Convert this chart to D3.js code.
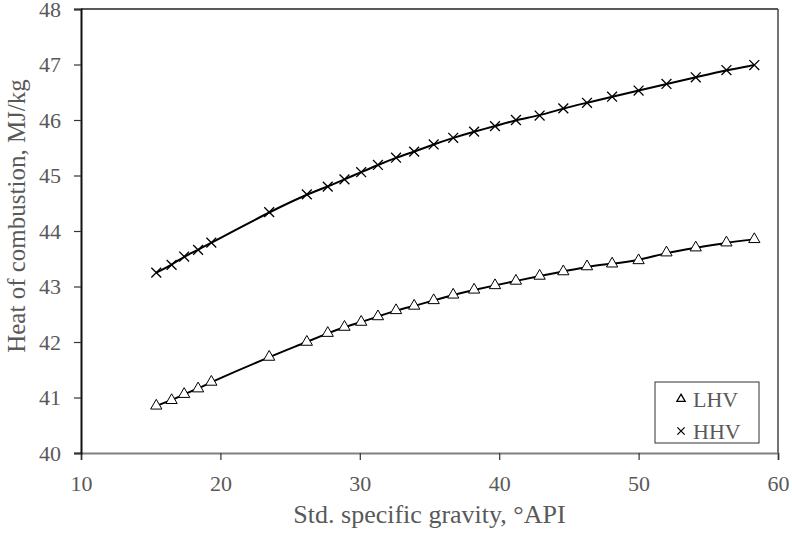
<!DOCTYPE html>
<html>
<head>
<meta charset="utf-8">
<script src="https://cdn.jsdelivr.net/npm/d3@7"></script>
<style>
  body { margin: 0; background: #fff; }
  text { font-family: "Liberation Serif", "Times New Roman", serif; fill: #595959; }
</style>
</head>
<body>
<svg id="chart" width="792" height="536"></svg>
<script>
const api = [15.4, 16.5, 17.4, 18.4, 19.35, 23.5, 26.2, 27.7, 28.9, 30.1, 31.3, 32.6, 33.9, 35.3,
             36.7, 38.2, 39.7, 41.2, 42.9, 44.6, 46.3, 48.1, 50.0, 52.0, 54.1, 56.3, 58.3];
const lhv = [40.85, 40.95, 41.06, 41.16, 41.28, 41.73, 42.0, 42.16, 42.27, 42.36, 42.46, 42.57, 42.65, 42.75,
             42.85, 42.94, 43.02, 43.1, 43.19, 43.27, 43.36, 43.41, 43.47, 43.61, 43.7, 43.79, 43.85];
const hhv = [43.25, 43.39, 43.54, 43.66, 43.79, 44.34, 44.66, 44.80, 44.93, 45.06, 45.19, 45.32, 45.43, 45.56,
             45.68, 45.79, 45.89, 46.0, 46.08, 46.21, 46.31, 46.42, 46.53, 46.65, 46.77, 46.9, 46.99];
const xTicks = [10, 20, 30, 40, 50, 60];
const yTicks = [40, 41, 42, 43, 44, 45, 46, 47, 48];
const seriesNames = ["LHV", "HHV"];

const plotLeft = 81, plotRight = 778, plotTop = 9, plotBottom = 453;
const svg = d3.select("#chart");

const x = d3.scaleLinear().domain([10, 60]).range([plotLeft, plotRight]);
const y = d3.scaleLinear().domain([40, 48]).range([plotBottom, plotTop]);

// plot frame (top and right)
svg.append("line").attr("x1", plotLeft).attr("x2", plotRight).attr("y1", plotTop).attr("y2", plotTop)
    .attr("stroke", "#222").attr("stroke-width", 1.5);
svg.append("line").attr("x1", plotRight).attr("x2", plotRight).attr("y1", plotTop).attr("y2", plotBottom)
    .attr("stroke", "#444").attr("stroke-width", 1.5);

// axes
const xAxis = svg.append("g").attr("transform", `translate(0,${plotBottom})`)
    .call(d3.axisBottom(x).tickValues(xTicks).tickSize(7).tickPadding(15).tickFormat(d3.format("d")));
xAxis.select(".domain").attr("stroke", "#808080").attr("stroke-width", 2);
xAxis.selectAll(".tick line").attr("stroke", "#333").attr("stroke-width", 1.2);
xAxis.selectAll(".tick text").style("font-size", "22px").attr("fill", "#595959")
    .style("font-family", "Liberation Serif");

const yAxis = svg.append("g").attr("transform", `translate(${plotLeft},0)`)
    .call(d3.axisLeft(y).tickValues(yTicks).tickSize(7).tickPadding(13).tickFormat(d3.format("d")));
yAxis.select(".domain").attr("stroke", "#111").attr("stroke-width", 2);
yAxis.selectAll(".tick line").attr("stroke", "#333").attr("stroke-width", 1.2);
yAxis.selectAll(".tick text").style("font-size", "22px").attr("fill", "#595959")
    .style("font-family", "Liberation Serif");

// axis titles
svg.append("text").attr("x", (plotLeft + plotRight) / 2).attr("y", 523)
    .attr("text-anchor", "middle").style("font-size", "26px")
    .text("Std. specific gravity, °API");
svg.append("text").attr("transform", "translate(25,216) rotate(-90)")
    .attr("text-anchor", "middle").style("font-size", "25px")
    .text("Heat of combustion, MJ/kg");

// curves
const line = d3.line().x(d => x(d[0])).y(d => y(d[1])).curve(d3.curveBasis);
[lhv, hhv].forEach(vals => {
    svg.append("path").datum(api.map((a, i) => [a, vals[i]]))
        .attr("d", line).attr("fill", "none").attr("stroke", "#000").attr("stroke-width", 2);
});

// markers
const tri = d3.symbol().type(d3.symbolTriangle).size(55);
svg.append("g").selectAll("path")
    .data(api.map((a, i) => [a, lhv[i]]))
    .enter().append("path")
    .attr("d", tri)
    .attr("transform", d => `translate(${x(d[0])},${y(d[1])})`)
    .attr("fill", "#fff").attr("stroke", "#000").attr("stroke-width", 1);

const cross = d3.symbol().type(d3.symbolTimes).size(65);
svg.append("g").selectAll("path")
    .data(api.map((a, i) => [a, hhv[i]]))
    .enter().append("path")
    .attr("d", cross)
    .attr("transform", d => `translate(${x(d[0])},${y(d[1])})`)
    .attr("fill", "none").attr("stroke", "#000").attr("stroke-width", 1.3);

// legend
const legend = svg.append("g");
legend.append("rect").attr("x", 655).attr("y", 382).attr("width", 104).attr("height", 61)
    .attr("fill", "#fff").attr("stroke", "#333").attr("stroke-width", 1);
const legSymbols = [d3.symbol().type(d3.symbolTriangle).size(30), d3.symbol().type(d3.symbolTimes).size(36)];
seriesNames.forEach((name, i) => {
    const cy = 399 + i * 32;
    legend.append("path").attr("d", legSymbols[i])
        .attr("transform", `translate(681,${cy})`)
        .attr("fill", i === 0 ? "#fff" : "none").attr("stroke", "#000").attr("stroke-width", 1.3);
    legend.append("text").attr("x", 693).attr("y", cy + 8).style("font-size", "22px").text(name);
});
</script>
</body>
</html>
